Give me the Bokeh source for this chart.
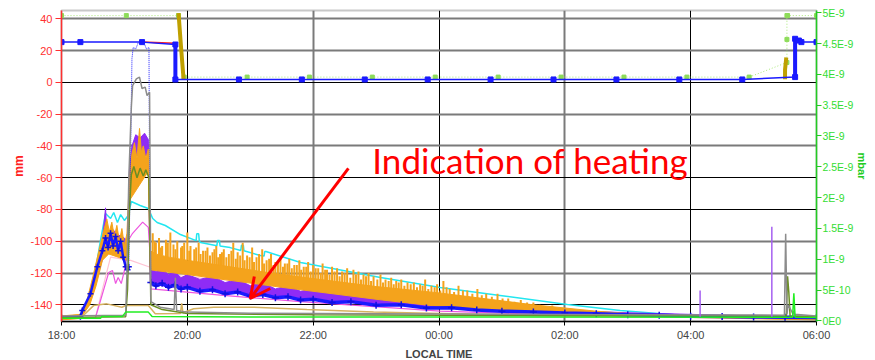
from bokeh.plotting import figure
from bokeh.models import Range1d, LinearAxis, FixedTicker, Grid, Arrow, OpenHead, Label
from bokeh.embed import file_html
from bokeh.resources import INLINE

nan = float("nan")

# ---------------- axes / ticks ----------------
x_ticks = [0, 2, 4, 6, 8, 10, 12]            # hours after 18:00
x_tick_labels = ["18:00", "20:00", "22:00", "00:00", "02:00", "04:00", "06:00"]
mm_ticks = [40, 20, 0, -20, -40, -60, -80, -100, -120, -140]
mm_tick_labels = ["40", "20", "0", "-20", "-40", "-60", "-80", "-100", "-120", "-140"]
mbar_ticks = [0.0, 0.5, 1.0, 1.5, 2.0, 2.5, 3.0, 3.5, 4.0, 4.5, 5.0]   # x 1E-9 mbar
mbar_tick_labels = ["0E0", "5E-10", "1E-9", "1.5E-9", "2E-9", "2.5E-9", "3E-9",
                    "3.5E-9", "4E-9", "4.5E-9", "5E-9"]

# ---------------- top series ----------------
tb_x = [0.0, 0.30, 1.28, 1.81, 1.81, 2.82, 3.82, 4.82, 5.82, 6.82, 7.82, 8.82, 9.82,
        10.82, 11.66, 11.66, 11.72, 11.76, 12.0]
tb_y = [25.3, 25.3, 25.3, 23.8, 1.8, 1.8, 1.8, 1.8, 1.8, 1.8, 1.8, 1.8, 1.8,
        1.8, 3.3, 27.4, 26.3, 25.3, 25.3]
red_x = [1.28, 1.80, 1.80, nan, 11.65, 11.65]
red_y = [25.3, 24.6, 2.0, nan, 3.0, 26.0]
gold_x = [1.86, 1.90, 1.94, nan, 11.50, 11.50, 11.52]
gold_y = [43.5, 22.0, 2.0, nan, 2.0, 8.0, 15.6]
gtop_x = [0.0, 1.03, 1.86, 1.95, 2.95, 3.94, 4.94, 5.94, 6.94, 7.94, 8.94, 9.94,
          10.93, 11.53, 11.53, 11.53, 11.54, 12.0]
gtop_y = [42, 42, 42, 3.3, 3.3, 3.3, 3.3, 3.3, 3.3, 3.3, 3.3, 3.3,
          3.3, 12.5, 27.0, 42, 42, 42]

# ---------------- lower series (mm) ----------------
cy_x = [0.0, 0.30, 0.43, 0.54, 0.62, 0.70, 0.78, 0.83, 0.89, 0.94, 1.00, 1.06, 1.11,
        1.25, 1.38, 1.45, 1.52, 1.65, 1.89, 2.14, 2.15, 2.18, 2.19, 2.21, 2.47, 2.48,
        2.51, 2.52, 2.68, 2.85, 2.86, 2.89, 2.90, 3.16, 3.22, 3.23, 3.25, 3.80, 5.07,
        6.02, 6.97, 8.04, 8.88, 9.88, 10.95, 12.0]
cy_y = [-147.3, -146.7, -137.3, -118.4, -99.5, -82.5, -85.7, -81.9, -88.2, -83.2,
        -86.9, -83.8, -75.0, -77.5, -79.4, -85.7, -88.2, -90.1, -95.8, -99.6, -95.3,
        -95.3, -99.8, -100.8, -102.8, -99.5, -99.5, -103.0, -104.0, -105.8, -102.5,
        -102.5, -106.0, -109.0, -109.3, -106.5, -106.5, -113.4, -122.8, -129.1,
        -134.1, -139.8, -143.6, -146.7, -147.3, -148.0]

pk_x = [0.0, 0.54, 0.62, 0.75, 0.81, 0.86, 0.90, 0.95, 1.00, 1.06, 1.13, 1.29, 1.38,
        1.41, 1.42, 2.57, 3.80, 6.02, 8.04, 12.0]
pk_y = [-148.5, -148.0, -137.3, -119.7, -118.4, -126.6, -122.8, -126.6, -118.4, -99.5,
        -95.0, -88.0, -91.3, -110.0, -130.0, -134.1, -138.0, -144.0, -146.5, -148.5]

lp_x = [0.0, 0.54, 0.62, 0.78, 1.10, 1.41, 1.43, 2.2, 3.8, 6.0, 8.5, 12.0]
lp_y = [-148.5, -148.0, -135.0, -110.0, -112.0, -116.4, -120.0, -123.0, -128.0,
        -138.0, -146.0, -148.5]

tn_x = [0.0, 0.30, 0.51, 0.72, 0.96, 1.02, 1.38, 1.49, 1.89, 1.91, 1.93, 2.10, 2.42,
        3.05, 3.90, 4.96, 6.02, 7.80, 12.0]
tn_y = [-149.0, -148.5, -140.5, -139.4, -141.5, -140.4, -140.4, -145.6, -145.4, -139.0,
        -145.0, -142.5, -141.5, -141.5, -143.0, -144.6, -145.5, -147.0, -148.0]

gr_x = [0.0, 0.62, 0.64, 0.97, 1.02, 1.38, 1.44, 3.0, 11.62, 11.64, 11.66, 12.0]
gr_y = [-148.5, -148.5, -147.3, -147.3, -144.6, -144.6, -147.3, -147.6, -147.8,
        -132.7, -147.8, -148.0]

ol_x = [0.0, 1.02, 1.05, 1.08, 1.11, 1.15, 1.20, 1.25, 1.30, 1.34, 1.39, 1.42, 1.60,
        2.0, 4.0, 8.0, 11.52, 11.54, 11.56, 11.58, 12.0]
ol_y = [-148.0, -147.5, -130.0, -80.0, -58.0, -53.0, -60.0, -54.0, -59.0, -55.0,
        -60.0, -140.0, -143.0, -145.5, -146.3, -146.8, -147.0, -122.0, -132.0,
        -147.0, -147.5]

gy_x = [0.0, 1.02, 1.04, 1.07, 1.11, 1.13, 1.19, 1.24, 1.28, 1.33, 1.36, 1.40, 1.42,
        1.57, 1.79, 1.81, 1.83, 1.99, 3.0, 6.0, 9.0, 11.49, 11.51, 11.53, 11.55,
        11.63, 11.64, 11.65, 12.0]
gy_y = [-147.0, -146.5, -120.0, -60.0, -15.6, -2.0, 2.2, 3.3, -3.9, -3.0, -8.3, -6.2,
        -138.0, -141.5, -143.0, -123.0, -143.5, -144.6, -145.3, -145.8, -146.3,
        -146.5, -95.3, -146.0, -140.0, -146.0, -143.6, -146.0, -147.0]

pu_up_x = [0.30, 0.45, 0.55, 0.65, 0.70, 0.72, 0.80, 0.90, 1.00, 1.05, 1.08, 1.12,
           1.18, 1.25, 1.32, 1.38, 1.41, 1.5, 1.6, 1.7, 1.8, 1.9, 2.0, 2.2, 2.4, 2.6,
           2.8, 3.0, 3.2, 3.4, 3.6, 3.8, 4.0, 4.3, 4.6, 5.0, 5.5, 6.0, 7.0, 8.0, 9.0,
           10.0, 11.0, 12.0]
pu_up_y = [-147, -135, -118, -100, -79, -95, -92, -96, -98, -100, -55, -40, -33, -35,
           -32, -36, -116, -119, -117, -121, -119, -123, -121, -124, -122, -126, -124,
           -128, -126, -130, -128, -131.5, -130, -133, -132.5, -135.5, -136, -139,
           -141.5, -143.5, -145, -146, -147, -147.5]
pu_lo_x = [0.30, 0.55, 0.70, 1.05, 1.08, 1.12, 1.38, 1.41, 2.00, 3.50, 5.10, 6.00,
           8.00, 10.00, 12.00]
pu_lo_y = [-148, -125, -105, -108, -80, -46, -46, -127, -130, -135, -139.5, -141.5,
           -144.5, -147, -148]

# orange: upper edge of the dense band, lower edge, and the thin noise spikes above it
or_up_x = [0.0, 0.30, 0.40, 0.50, 0.60, 0.68, 0.72, 0.76, 0.80, 0.84, 0.88, 0.92,
           0.96, 1.00, 1.04, 1.08, 1.12, 1.16, 1.20, 1.24, 1.27, 1.30, 1.34, 1.38,
           1.41, 1.5, 1.7, 2.0, 2.5, 3.0, 3.5, 4.0, 4.5, 5.0, 5.5, 6.0, 6.5, 7.0, 7.5,
           8.0, 8.5, 9.0, 10.0, 11.0, 12.0]
or_up_y = [-147, -146, -138, -122, -105, -92, -86, -94, -88, -97, -90, -100, -92,
           -103, -95, -60, -45, -38, -48, -29, -44, -40, -48, -42, -106, -108, -110,
           -112, -115, -118, -121, -123.5, -126, -128.5, -130.5, -132.5, -135, -137.5,
           -140, -142, -144, -145.5, -147, -148, -148.5]
or_lo_x = [0.0, 0.30, 0.45, 0.55, 0.65, 0.75, 0.90, 1.04, 1.07, 1.38, 1.41, 2.0, 3.5,
           5.1, 6.0, 7.0, 8.0, 10.0, 12.0]
or_lo_y = [-149.5, -148.5, -140, -128, -112, -108, -110, -112, -75, -56, -118, -121,
           -129, -137, -141, -143.5, -145.5, -148, -149.5]
or_sp_x = [1.45, 1.50, 1.55, 1.60, 1.66, 1.73, 1.78, 1.84, 1.90, 1.95, 2.00, 2.05,
           2.11, 2.18, 2.25, 2.32, 2.40, 2.46, 2.52, 2.58, 2.66, 2.73, 2.80, 2.88,
           2.95, 3.03, 3.10, 3.19, 3.26, 3.33, 3.40, 3.48, 3.55, 3.62, 3.70, 3.78,
           3.85, 3.92, 4.00, 4.08, 4.15, 4.22, 4.30, 4.38, 4.46, 4.54, 4.64, 4.72,
           4.80, 4.88, 4.96, 5.07, 5.15, 5.24, 5.32, 5.40, 5.50, 5.60, 5.70, 5.78,
           5.88, 5.97, 6.07, 6.17, 6.31, 6.45, 6.61, 6.75, 6.93, 7.10, 7.30, 7.50]
or_sp_top = [-95, -101, -98, -103, -99, -94.5, -102, -100, -104, -101, -94.5, -103,
             -105, -101, -106, -104, -107, -103, -108, -105, -108, -101, -107, -101,
             -109, -104, -110, -105, -112, -108, -113, -110, -114, -111, -115, -112,
             -116, -113, -115, -117, -114, -118, -116, -117, -119, -117, -118, -119,
             -121, -120, -122, -121, -124, -123, -125, -124, -126, -126, -127, -124,
             -128, -127, -125, -130, -128, -131, -130, -133, -133, -136, -137, -138.5]
or_sp_base = [-108, -108, -109, -109, -110, -110, -111, -111, -112, -112, -112, -113,
              -113, -114, -114, -115, -115, -116, -116, -117, -117, -118, -118, -119,
              -119, -120, -120, -121, -121, -122, -122, -123, -123, -123, -124, -124,
              -124, -125, -125, -126, -126, -127, -127, -128, -128, -128, -129, -129,
              -130, -130, -130, -131, -131, -132, -132, -132, -133, -133, -134, -134,
              -134, -135, -135, -136, -136, -137, -137, -138, -139, -140, -141, -142]
or_sp2_x = [1.48, 1.58, 1.69, 1.81, 1.92, 2.03, 2.14, 2.21, 2.29, 2.36, 2.43, 2.49,
            2.55, 2.62, 2.70, 2.77, 2.84, 2.91, 2.99, 3.06, 3.14, 3.22, 3.30, 3.37,
            3.44, 3.52, 3.59, 3.66, 3.74, 3.81, 3.89, 3.96, 4.04, 4.12, 4.19, 4.26,
            4.34, 4.42, 4.50, 4.59, 4.68, 4.76, 4.84, 4.92, 5.02, 5.11, 5.20, 5.28,
            5.36, 5.45, 5.55, 5.65, 5.74, 5.83, 5.93, 6.02, 6.12, 6.24, 6.38, 6.53,
            6.68, 6.84, 7.01, 7.20, 7.40, 7.60, 7.80]
or_sp2_top = [-100, -104, -101, -105, -103, -106, -104, -108, -106, -109, -105, -110,
              -107, -110, -106, -111, -109, -112, -110, -113, -108, -114, -111, -115,
              -113, -116, -114, -117, -115, -118, -116, -119, -117, -120, -118, -121,
              -119, -122, -120, -123, -121, -124, -122, -125, -124, -126, -125, -127,
              -126, -128, -127, -129, -128, -130, -129, -131, -129, -132, -131, -133,
              -134, -135, -136, -138, -138.5, -140, -140.5]
or_sp2_base = [-109, -110, -111, -112, -113, -113, -114, -114, -115, -115, -116, -116,
               -116, -117, -117, -118, -118, -119, -119, -120, -120, -121, -121, -122,
               -122, -123, -123, -123, -124, -124, -124, -125, -125, -126, -126, -127,
               -127, -128, -128, -128, -129, -129, -130, -130, -130, -131, -131, -132,
               -132, -132, -133, -133, -134, -134, -134, -135, -135, -136, -136, -137,
               -138, -139, -140, -141, -142, -143, -144]

bl_pre_x = [0.0, 0.30, 0.33, 0.46, 0.57, 0.65, 0.70, 0.74, 0.78, 0.82, 0.86, 0.90,
            0.94, 0.98, 1.02, 1.05, 1.07]
bl_pre_y = [-148, -147.5, -143.5, -133, -116, -106, -98, -104, -95, -103, -97, -106,
            -100, -110, -116, -118, -116]
bl_peak_x = [1.07, 1.10, 1.12, 1.14, 1.18, 1.22, 1.27, 1.31, 1.35, 1.39, 1.40, 1.42]
bl_peak_y = [-116, -40, 15, 22, 21, 25, 24, 25, 21, 22, -60, -126]
bl_post_x = [1.42, 1.5, 1.6, 1.7, 1.8, 1.9, 2.0, 2.2, 2.4, 2.6, 2.8, 3.0, 3.2, 3.4,
             3.6, 3.8, 4.0, 4.3, 4.6, 5.0, 5.4, 5.8, 6.2, 6.6, 7.0, 7.5, 8.0, 8.5,
             9.0, 9.5, 10.0, 10.5, 11.0, 11.5, 12.0]
bl_post_y = [-126, -128, -126.5, -129, -127.5, -130, -129, -131.5, -130.5, -133, -132,
             -134.5, -133.5, -135.5, -135, -137, -136.5, -138.5, -138, -140.3, -140,
             -142, -141.8, -143.2, -144, -144.5, -145.2, -145.6, -146.3, -146.6,
             -147.2, -147.3, -147.6, -147.8, -148]

spike_x = [10.15, 11.29]
spike_base = [-147.5, -147.5]
spike_top = [-131.0, -90.8]

# annotation
note_text = "Indication of heating"
note_pos = (4.94, -49.0)
arrow_from = (4.56, -54.2)
arrow_to = (3.00, -136.0)

# ---------------- figure ----------------
p = figure(width=875, height=360, frame_width=755, frame_height=311,
           output_backend="svg", toolbar_location=None,
           x_range=Range1d(0, 12), y_range=Range1d(-150.5, 45.2),
           min_border_left=61, min_border_right=59, min_border_top=10,
           min_border_bottom=39, background_fill_color="white")
p.extra_y_ranges = {"mbar": Range1d(-0.011, 5.037)}
p.outline_line_color = "#c8c8c8"
p.outline_line_width = 2
p.xgrid.visible = False
p.ygrid.visible = False

FONT = "Liberation Sans"

for dim, ticks, col, w in [(0, [2, 6, 10], "#000000", 1), (0, [4, 8], "#7a7a7a", 2),
                           (1, [0, -60, -80, -140], "#000000", 1),
                           (1, [40, 20, -20, -40, -100, -120], "#7a7a7a", 2)]:
    p.add_layout(Grid(dimension=dim, ticker=FixedTicker(ticks=ticks),
                      grid_line_color=col, grid_line_width=w))

xa = p.xaxis[0]
xa.ticker = FixedTicker(ticks=x_ticks)
xa.major_label_overrides = dict(zip(x_ticks, x_tick_labels))
xa.axis_label = "LOCAL TIME"
xa.axis_label_text_font = FONT
xa.axis_label_text_font_style = "bold"
xa.axis_label_text_font_size = "11px"
xa.axis_label_standoff = 4
xa.major_label_text_font = FONT
xa.major_label_text_font_size = "11px"
xa.major_label_standoff = 3
xa.axis_line_color = "black"
xa.axis_line_width = 1.5
xa.major_tick_out = 4
xa.major_tick_in = 0
xa.minor_tick_out = 0
xa.minor_tick_in = 0

ya = p.yaxis[0]
ya.ticker = FixedTicker(ticks=mm_ticks)
ya.major_label_overrides = dict(zip(mm_ticks, mm_tick_labels))
ya.axis_label = "mm"
ya.axis_label_text_color = "#ff2020"
ya.axis_label_text_font = FONT
ya.axis_label_text_font_style = "bold"
ya.axis_label_text_font_size = "12px"
ya.axis_label_standoff = 1
ya.major_label_text_color = "#ff3030"
ya.major_label_text_font = FONT
ya.major_label_text_font_size = "11px"
ya.major_label_standoff = 3
ya.axis_line_color = "#ff3030"
ya.axis_line_width = 1.5
ya.major_tick_line_color = "#ff3030"
ya.major_tick_out = 6
ya.major_tick_in = 0
ya.minor_tick_out = 0
ya.minor_tick_in = 0

ra = LinearAxis(y_range_name="mbar", ticker=FixedTicker(ticks=mbar_ticks),
                major_label_overrides=dict(zip(mbar_ticks, mbar_tick_labels)))
ra.axis_label = "mbar"
ra.axis_label_text_color = "#22cc22"
ra.axis_label_text_font = FONT
ra.axis_label_text_font_style = "bold"
ra.axis_label_text_font_size = "11px"
ra.axis_label_standoff = 0
ra.major_label_text_color = "#33dd33"
ra.major_label_text_font = FONT
ra.major_label_text_font_size = "10.5px"
ra.major_label_standoff = 1
ra.axis_line_color = "#22cc22"
ra.axis_line_width = 1.5
ra.major_tick_line_color = "#22cc22"
ra.major_tick_out = 5
ra.major_tick_in = 0
ra.minor_tick_out = 0
ra.minor_tick_in = 0
p.add_layout(ra, "right")

ORANGE = "#f4a31c"
p.line(lp_x, lp_y, color="#ffc4d4", line_width=1.2)
p.line(pk_x, pk_y, color="#ee55e0", line_width=1.2)
p.line(tn_x, tn_y, color="#d6b260", line_width=1.5)
p.line(cy_x, cy_y, color="#22e6f0", line_width=1.5)
p.patch(pu_up_x + pu_lo_x[::-1], pu_up_y + pu_lo_y[::-1], fill_color="#8f2cf5",
        line_color="#8f2cf5", line_width=1)
p.segment(or_sp_x, or_sp_base, or_sp_x, or_sp_top, color=ORANGE, line_width=2)
p.segment(or_sp2_x, or_sp2_base, or_sp2_x, or_sp2_top, color=ORANGE, line_width=2)
p.patch(or_up_x + or_lo_x[::-1], or_up_y + or_lo_y[::-1], fill_color=ORANGE,
        line_color=ORANGE, line_width=1)
p.line(bl_pre_x, bl_pre_y, color="#1a1aff", line_width=2.5)
p.scatter(bl_pre_x, bl_pre_y, marker="cross", size=6, color="#1010e0", line_width=1.5)
p.line(bl_peak_x, bl_peak_y, color="#2020ff", line_width=1, line_dash="1 1")
p.line(bl_post_x, bl_post_y, color="#1a1aff", line_width=3.5)
p.scatter(bl_post_x, bl_post_y, marker="cross", size=7, color="#1010e0", line_width=1.5)
p.line(ol_x, ol_y, color="#6b8e23", line_width=1.5)
p.line(gy_x, gy_y, color="#8c8c8c", line_width=1.5)
p.line(gr_x, gr_y, color="#22ee22", line_width=1.5)
p.segment(spike_x, spike_base, spike_x, spike_top, color="#a560f0", line_width=1.5)

p.line(gtop_x, gtop_y, color="#a8e878", line_width=1, line_dash="1 2")
p.scatter(gtop_x, gtop_y, marker="square", size=4, color="#8edc5a")
p.line(gold_x, gold_y, color="#bfa000", line_width=4)
p.line(red_x, red_y, color="#ff2020", line_width=1.5)
p.line(tb_x, tb_y, color="#1a1aff", line_width=1.5)
p.segment([tb_x[3], tb_x[14]], [tb_y[3], tb_y[14]], [tb_x[4], tb_x[15]],
          [tb_y[4], tb_y[15]], color="#1a1aff", line_width=4)
p.scatter(tb_x, tb_y, marker="square", size=5, color="#1a1aff")

p.add_layout(Label(x=note_pos[0], y=note_pos[1], text=note_text, text_color="red",
                   text_font="Lato", text_font_size="35px", text_baseline="middle"))
p.add_layout(Arrow(end=OpenHead(line_color="red", line_width=3, size=20),
                   x_start=arrow_from[0], y_start=arrow_from[1],
                   x_end=arrow_to[0], y_end=arrow_to[1],
                   line_color="red", line_width=3))

open("out.html", "w").write(file_html(p, INLINE))
